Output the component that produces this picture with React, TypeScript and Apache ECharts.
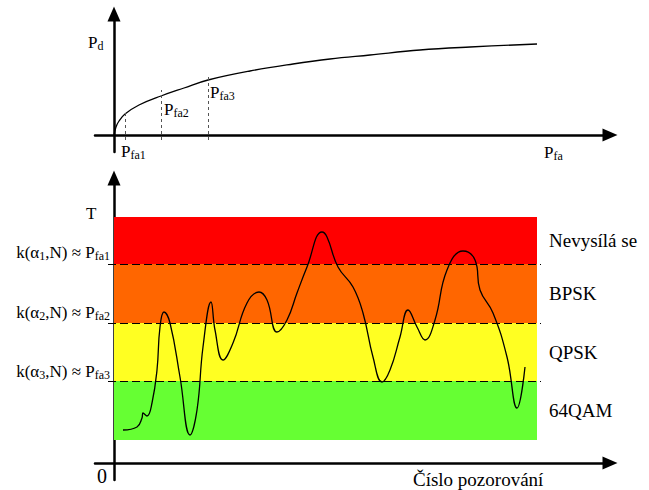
import React, { useEffect, useRef } from "react";
import * as echarts from "echarts";

const FONT = '"Liberation Serif", "Times New Roman", serif';

// Top chart: P_d vs P_fa curve (x, y)
const pdCurveX = [0, 2, 5, 11, 25, 47, 70, 94, 136, 179, 216, 256, 306, 356, 423];
const pdCurveY = [0, 8, 14, 21, 30, 39, 47, 55, 64, 71, 76, 80, 85, 88, 91];
// dashed guides at Pfa1..3
const pfaX = [11, 47, 94];
const pfaTop = [23, 45, 58];
const pfaBottom = -5;

// Bottom chart: T over observation number
const obsX = [9, 23, 28, 29, 33, 38, 43, 46, 50, 56, 66, 76, 83, 89, 97, 101, 109, 119, 133, 145, 153, 163, 173, 183, 193, 208, 213, 224, 239, 249, 259, 268, 276, 286, 294, 303, 311, 321, 333, 349, 361, 366, 379, 393, 403, 411];
const obsT = [33, 36, 45, 50, 47, 60, 93, 136, 151, 140, 86, 28, 53, 116, 161, 133, 103, 120, 160, 171, 163, 131, 143, 170, 196, 231, 226, 196, 176, 150, 106, 81, 93, 126, 153, 136, 123, 143, 193, 212, 203, 173, 150, 106, 55, 96];

// Bands (bottom → top)
const bandEdges = [23, 82, 140, 199, 246];
const bandLabels = ["64QAM", "QPSK", "BPSK", "Nevysílá se"];
const bandColors = ["#66ff33", "#ffff22", "#ff6600", "#ff0000"];
const bandXStart = 0;
const bandXEnd = 423;
const thresholdLineX = [-6, 427];

export default function App() {
  const ref = useRef<HTMLDivElement>(null);
  useEffect(() => {
    if (!ref.current) return;
    const chart = echarts.init(ref.current, undefined, { renderer: "svg" });

    const axisCommon = {
      type: "value",
      axisTick: { show: false },
      axisLabel: { show: false },
      splitLine: { show: false },
    };
    const axisLine = {
      onZero: true,
      symbol: ["none", "triangle"],
      symbolSize: [13, 15],
      lineStyle: { color: "#000", width: 2.5 },
    };

    const markAreaData = bandLabels.map((name, i) => [
      {
        name,
        xAxis: bandXStart,
        yAxis: bandEdges[i],
        itemStyle: { color: bandColors[i], opacity: 1 },
      },
      { xAxis: bandXEnd, yAxis: bandEdges[i + 1] },
    ]);
    const thresholdData = [bandEdges[1], bandEdges[2], bandEdges[3]].map((y) => [
      { coord: [thresholdLineX[0], y] },
      { coord: [thresholdLineX[1], y] },
    ]);
    const pfaLines = pfaX.map((x, i) => [
      { coord: [x, pfaBottom] },
      { coord: [x, pfaTop[i]] },
    ]);

    const rich = {
      s: { fontFamily: FONT, fontSize: 12, lineHeight: 10, verticalAlign: "bottom", fill: "#000" },
    };
    const txt = (text: string, x: number, y: number, size = 17, align = "left") => ({
      type: "text",
      x,
      y,
      style: {
        text,
        rich,
        fontFamily: FONT,
        fontSize: size,
        lineHeight: 20,
        fill: "#000",
        align,
        verticalAlign: "middle",
      },
    });

    chart.setOption({
      animation: false,
      backgroundColor: "#fff",
      grid: [
        { left: 95, top: 14, width: 515, height: 138 },
        { left: 95, top: 178, width: 515, height: 302 },
      ],
      xAxis: [
        { ...axisCommon, gridIndex: 0, min: -19, max: 496, axisLine },
        { ...axisCommon, gridIndex: 1, min: -19, max: 496, axisLine },
      ],
      yAxis: [
        { ...axisCommon, gridIndex: 0, min: -17, max: 121, axisLine },
        { ...axisCommon, gridIndex: 1, min: -17, max: 285, axisLine },
      ],
      series: [
        {
          type: "line",
          xAxisIndex: 0,
          yAxisIndex: 0,
          data: pdCurveX.map((x, i) => [x, pdCurveY[i]]),
          smooth: 0.4,
          showSymbol: false,
          lineStyle: { color: "#000", width: 1.3 },
          markLine: {
            silent: true,
            symbol: "none",
            label: { show: false },
            lineStyle: { color: "#555", width: 1, type: [3, 3] },
            data: pfaLines,
          },
          z: 3,
        },
        {
          type: "line",
          xAxisIndex: 1,
          yAxisIndex: 1,
          data: [],
          markArea: {
            silent: true,
            label: {
              show: true,
              position: "right",
              distance: 12,
              color: "#000",
              fontFamily: FONT,
              fontSize: 19,
            },
            data: markAreaData,
          },
          markLine: {
            silent: true,
            symbol: "none",
            label: { show: false },
            lineStyle: { color: "#000", width: 1.2, type: [8, 4] },
            data: thresholdData,
          },
          z: 1,
        },
        {
          type: "line",
          xAxisIndex: 1,
          yAxisIndex: 1,
          data: obsX.map((x, i) => [x, obsT[i]]),
          smooth: 0.45,
          showSymbol: false,
          lineStyle: { color: "#000", width: 1.3 },
          z: 5,
        },
      ],
      graphic: [
        txt("P{s|d}", 88, 42),
        txt("P{s|fa1}", 121, 151),
        txt("P{s|fa2}", 164, 109),
        txt("P{s|fa3}", 210, 92),
        txt("P{s|fa}", 544, 152),
        txt("T", 86, 213),
        txt("k(α{s|1},N) ≈ P{s|fa1}", 110, 252, 17, "right"),
        txt("k(α{s|2},N) ≈ P{s|fa2}", 110, 312, 17, "right"),
        txt("k(α{s|3},N) ≈ P{s|fa3}", 110, 371, 17, "right"),
        txt("0", 97, 476, 20),
        txt("Číslo pozorování", 413, 479, 19),
      ],
    });
    return () => chart.dispose();
  }, []);
  return (
    <div
      ref={ref}
      style={{ position: "fixed", left: 0, top: 0, width: 649, height: 490, background: "#fff" }}
    />
  );
}
